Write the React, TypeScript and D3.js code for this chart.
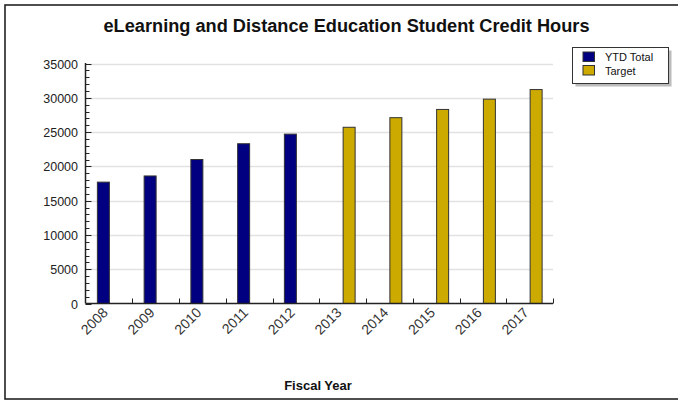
import React from "react";
import * as d3 from "d3";

const years = ["2008", "2009", "2010", "2011", "2012", "2013", "2014", "2015", "2016", "2017"];
const ytdTotal: (number | null)[] = [17700, 18600, 21000, 23300, 24700, null, null, null, null, null];
const target: (number | null)[] = [null, null, null, null, null, 25700, 27100, 28300, 29800, 31200];
const seriesNames = ["YTD Total", "Target"];
const seriesColors = ["#000080", "#ccaa00"];
const yTicks = [0, 5000, 10000, 15000, 20000, 25000, 30000, 35000];

const W = 678;
const H = 401;
const left = 85.5;
const right = 553;
const top = 63.5;
const bottom = 303.5;
const font = "'Liberation Sans', Arial, sans-serif";

export default function App() {
  const x = d3.scaleBand<string>().domain(years).range([left, right]).padding(0);
  const y = d3.scaleLinear().domain([0, 35000]).range([bottom, top]);
  const barW = 12;
  const sub = d3.scaleBand<string>().domain(seriesNames).range([-barW + 0.5, barW + 0.5]).padding(0);
  const minor = d3.range(0, 35001, 1000);
  const data = [ytdTotal, target];

  return (
    <svg width={W} height={H} style={{ position: "absolute", left: 0, top: 0, background: "#fff" }} fontFamily={font}>
      <rect x={5} y={5} width={W} height={394} fill="#fff" stroke="#222" strokeWidth={1.6} />
      <text x={346.5} y={32} textAnchor="middle" fontSize={18} fontWeight="bold" fill="#111" textLength={486} lengthAdjust="spacingAndGlyphs">
        eLearning and Distance Education Student Credit Hours
      </text>
      {yTicks.filter((t) => t > 0).map((t) => (
        <line key={"g" + t} x1={left} x2={right} y1={Math.round(y(t)) + 0.5} y2={Math.round(y(t)) + 0.5} stroke="#e2e2e2" strokeWidth={1.5} />
      ))}
      {minor.map((t) => (
        <line key={"m" + t} x1={left} x2={left + (t % 5000 === 0 ? 6 : 4)} y1={Math.round(y(t)) + 0.5} y2={Math.round(y(t)) + 0.5} stroke="#222" strokeWidth={1} />
      ))}
      {yTicks.map((t) => (
        <text key={"yl" + t} x={78} y={y(t) + 5} textAnchor="end" fontSize={12.5} fill="#222">
          {t}
        </text>
      ))}
      {data.map((vals, si) =>
        vals.map((v, i) =>
          v == null ? null : (
            <rect
              key={si + "-" + i}
              x={(x(years[i]) as number) + x.bandwidth() / 2 + (sub(seriesNames[si]) as number)}
              y={y(v)}
              width={sub.bandwidth()}
              height={bottom - y(v)}
              fill={seriesColors[si]}
              stroke="#333"
              strokeWidth={1}
            />
          )
        )
      )}
      <line x1={left} x2={left} y1={top - 0.5} y2={bottom} stroke="#222" strokeWidth={1.5} />
      <line x1={left} x2={right} y1={bottom} y2={bottom} stroke="#222" strokeWidth={1.5} />
      {years.map((yr) => (
        <line key={"xt" + yr} x1={Math.round((x(yr) as number) + x.bandwidth()) + 0.5} x2={Math.round((x(yr) as number) + x.bandwidth()) + 0.5} y1={bottom} y2={bottom - 5} stroke="#222" strokeWidth={1} />
      ))}
      {years.map((yr) => {
        const cx = (x(yr) as number) + x.bandwidth() / 2;
        return (
          <text key={"xl" + yr} transform={`translate(${cx},${bottom + 10}) rotate(-45)`} textAnchor="end" fontSize={14} fill="#333">
            {yr}
          </text>
        );
      })}
      <text x={318} y={390} textAnchor="middle" fontSize={13} fontWeight="bold" fill="#111">
        Fiscal Year
      </text>
      <rect x={575.5} y={50.5} width={96} height={36} fill="#bbb" />
      <rect x={572.5} y={47.5} width={96} height={36} fill="#fff" stroke="#333" strokeWidth={1} />
      {seriesNames.map((s, i) => (
        <g key={"lg" + s}>
          <rect x={583} y={52 + i * 13.5} width={11.5} height={9.5} fill={seriesColors[i]} stroke="#333" strokeWidth={1} />
          <text x={605} y={61 + i * 13.5} fontSize={11} fill="#111">
            {s}
          </text>
        </g>
      ))}
    </svg>
  );
}
